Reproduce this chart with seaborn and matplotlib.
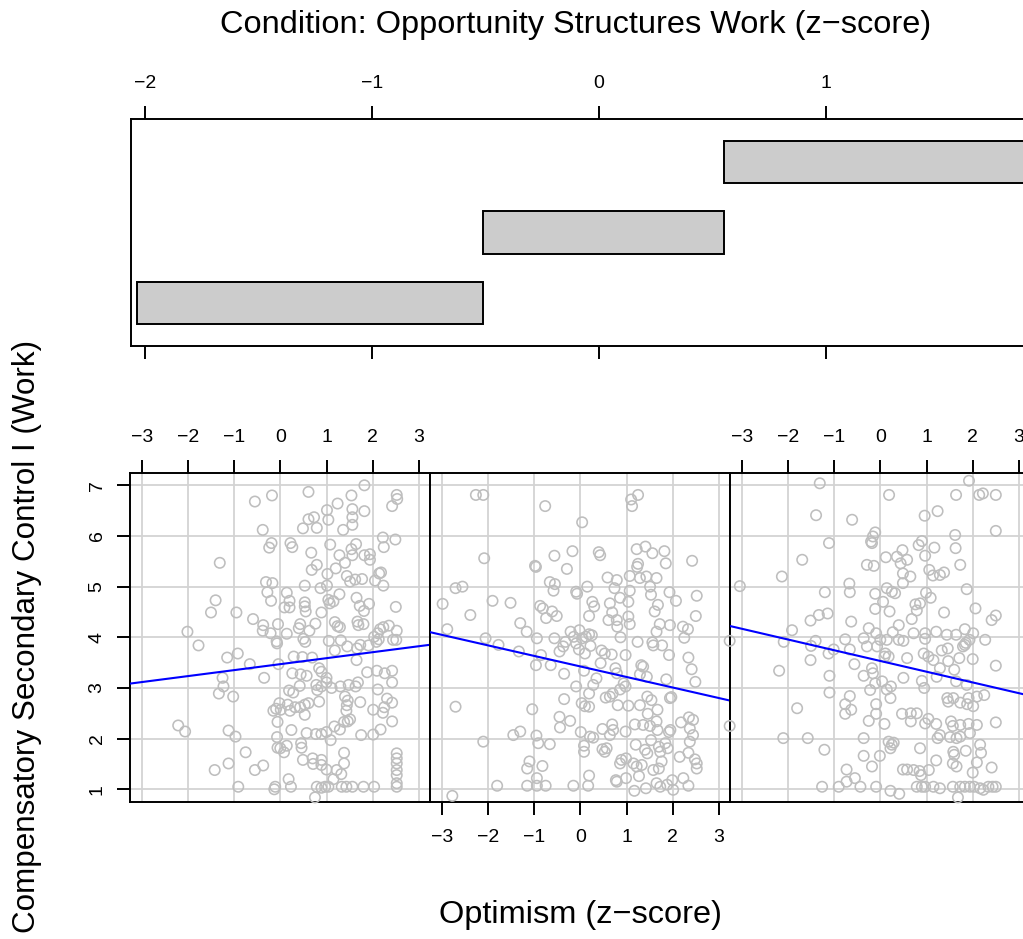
import numpy as np
import pandas as pd
import matplotlib
matplotlib.use("Agg")
import matplotlib.pyplot as plt
import seaborn as sns


# conditioning intervals (Opportunity Structures Work, z-score)
given_lo = [-2.035, -0.513, 0.552]
given_hi = [-0.513, 0.552, 1.88]

# fitted lines per panel
fit_intercept = [3.47, 3.425, 3.533]
fit_slope = [0.118, -0.208, -0.212]

# (optimism, compensatory secondary control) for each panel
low_pts = [
    (1.82, 7.00), (0.61, 6.87), (-0.18, 6.80), (-0.55, 6.68), (1.54, 6.80), (2.52, 6.81), (2.53, 6.73), (2.42, 6.59),
    (1.01, 6.51), (1.24, 6.64), (1.56, 6.53), (1.82, 6.49), (0.61, 6.33), (0.73, 6.37), (1.56, 6.37), (1.04, 6.32),
    (0.49, 6.15), (0.79, 6.16), (1.36, 6.12), (1.56, 6.22), (-0.38, 6.12), (2.22, 5.97), (2.49, 5.93), (-0.19, 5.86),
    (-0.24, 5.77), (0.22, 5.86), (0.26, 5.78), (1.08, 5.83), (1.64, 5.84), (1.54, 5.74), (2.24, 5.78), (0.67, 5.67),
    (1.28, 5.62), (1.56, 5.62), (1.82, 5.62), (1.94, 5.64), (1.94, 5.53), (-1.31, 5.47), (1.40, 5.47), (0.79, 5.43),
    (1.20, 5.36), (0.68, 5.33), (1.44, 5.21), (1.02, 5.25), (2.14, 5.26), (2.18, 5.28), (1.62, 5.14), (1.77, 5.15),
    (1.51, 5.10), (2.05, 5.12), (2.23, 5.02), (-0.31, 5.09), (-0.17, 5.07), (-0.28, 4.89), (-0.20, 4.72), (0.14, 4.88),
    (0.20, 4.72), (0.09, 4.59), (0.20, 4.59), (0.53, 5.02), (1.01, 5.02), (0.87, 4.97), (1.28, 4.85), (1.04, 4.74),
    (1.07, 4.67), (1.15, 4.71), (0.53, 4.69), (0.53, 4.61), (0.55, 4.51), (0.89, 4.49), (1.65, 4.78), (1.72, 4.62),
    (1.81, 4.52), (1.92, 4.66), (2.50, 4.60), (-1.40, 4.73), (-1.50, 4.49), (-0.95, 4.49), (-0.59, 4.36), (-0.37, 4.24),
    (-0.38, 4.13), (-0.21, 4.08), (-0.05, 4.26), (0.14, 4.07), (-0.08, 3.92), (-0.07, 3.88), (0.43, 4.26), (0.40, 4.18),
    (0.76, 4.27), (0.63, 4.13), (0.50, 3.97), (0.54, 3.91), (1.18, 4.30), (1.24, 4.22), (1.29, 4.20), (1.05, 3.93),
    (1.31, 3.94), (1.45, 3.82), (1.67, 4.31), (1.69, 4.24), (1.80, 4.26), (1.66, 3.78), (1.73, 3.85), (1.91, 3.84),
    (2.03, 4.01), (2.11, 4.08), (2.16, 4.16), (2.23, 4.20), (2.35, 4.23), (2.08, 3.91), (2.13, 3.96), (2.44, 3.95),
    (2.51, 3.95), (2.52, 4.13), (-2.01, 4.11), (-1.77, 3.84), (-1.15, 3.60), (-0.92, 3.68), (-0.66, 3.47), (-0.04, 3.47),
    (0.29, 3.62), (0.69, 3.60), (0.48, 3.61), (1.18, 3.74), (1.65, 3.55), (-1.25, 3.20), (-1.23, 3.03), (-1.33, 2.89),
    (-1.02, 2.83), (-0.35, 3.20), (0.26, 3.29), (0.44, 3.27), (0.57, 3.24), (0.84, 3.39), (0.89, 3.32), (1.00, 3.20),
    (1.00, 3.11), (0.78, 3.06), (0.80, 2.96), (0.89, 3.03), (1.11, 3.00), (1.30, 3.03), (1.48, 3.06), (1.68, 3.11),
    (1.63, 3.03), (1.88, 3.31), (2.09, 3.34), (2.26, 3.29), (2.42, 3.34), (2.42, 3.11), (2.11, 2.97), (0.42, 3.04),
    (0.19, 2.95), (0.28, 2.91), (-0.02, 2.70), (-0.09, 2.59), (-0.15, 2.55), (0.01, 2.57), (0.16, 2.67), (0.21, 2.55),
    (0.32, 2.62), (0.43, 2.62), (0.53, 2.67), (0.61, 2.70), (0.53, 2.47), (0.84, 2.73), (1.40, 2.83), (1.44, 2.66),
    (1.43, 2.55), (1.46, 2.75), (1.73, 2.72), (2.01, 2.57), (2.22, 2.51), (2.25, 2.62), (2.31, 2.79), (2.42, 2.71),
    (2.42, 2.34), (-2.21, 2.26), (-2.06, 2.14), (-1.12, 2.16), (-0.97, 2.04), (-0.06, 2.33), (-0.07, 2.03), (-0.06, 1.82),
    (0.00, 1.81), (0.08, 1.73), (0.14, 1.86), (0.24, 2.17), (0.45, 1.91), (0.46, 1.82), (0.57, 2.11), (0.77, 2.09),
    (0.89, 2.09), (1.00, 2.13), (1.09, 1.97), (1.17, 2.24), (1.29, 2.18), (1.38, 2.33), (1.46, 2.34), (1.51, 2.38),
    (1.75, 2.07), (2.01, 2.08), (2.17, 2.18), (-0.75, 1.73), (-1.12, 1.51), (-1.42, 1.38), (-0.55, 1.38), (-0.37, 1.47),
    (0.49, 1.58), (0.70, 1.61), (0.71, 1.50), (0.89, 1.58), (0.89, 1.48), (1.00, 1.39), (1.22, 1.38), (1.32, 1.30),
    (1.38, 1.72), (1.38, 1.51), (2.52, 1.71), (2.52, 1.61), (2.52, 1.51), (2.52, 1.38), (2.52, 1.28), (2.52, 1.12),
    (2.52, 1.05), (1.15, 1.20), (0.18, 1.20), (0.23, 1.05), (-0.91, 1.05), (-0.11, 1.05), (-0.13, 1.00), (0.79, 1.05),
    (0.89, 1.03), (0.97, 1.05), (1.04, 1.05), (1.33, 1.05), (1.43, 1.05), (1.56, 1.05), (1.80, 1.05), (2.03, 1.05),
    (0.75, 0.84),
]

mid_pts = [
    (-2.26, 6.81), (-2.10, 6.81), (-0.76, 6.59), (0.04, 6.27), (1.12, 6.59), (1.10, 6.72), (1.25, 6.81), (-2.08, 5.56),
    (-0.98, 5.41), (-0.96, 5.39), (-0.56, 5.61), (-0.17, 5.70), (-0.29, 5.35), (0.40, 5.68), (0.43, 5.62), (1.22, 5.74),
    (1.41, 5.79), (1.56, 5.66), (1.82, 5.70), (1.23, 5.39), (1.25, 5.45), (1.85, 5.46), (2.42, 5.51), (-2.70, 4.97),
    (-2.55, 5.00), (-2.98, 4.66), (-2.88, 4.16), (-2.38, 4.44), (-1.90, 4.72), (-1.51, 4.68), (-0.66, 5.09), (-0.55, 5.05),
    (-0.58, 4.92), (-0.09, 4.90), (-0.07, 4.86), (0.15, 5.00), (-0.87, 4.62), (-0.81, 4.57), (-0.74, 4.38), (-0.61, 4.51),
    (-0.51, 4.42), (-1.30, 4.28), (-1.16, 4.11), (-0.94, 3.98), (-0.56, 3.98), (0.26, 4.70), (0.30, 4.61), (0.19, 4.42),
    (0.59, 5.18), (0.79, 5.13), (0.74, 4.97), (1.07, 5.21), (1.07, 4.92), (1.29, 5.17), (1.43, 5.20), (1.65, 5.17),
    (1.51, 5.00), (1.53, 4.84), (1.93, 4.89), (2.07, 4.72), (2.52, 4.82), (0.64, 4.67), (0.86, 4.78), (1.04, 4.70),
    (0.69, 4.49), (0.79, 4.34), (0.80, 4.21), (0.61, 4.34), (1.04, 4.41), (1.07, 4.26), (1.61, 4.51), (1.68, 4.64),
    (1.72, 4.26), (1.65, 4.11), (1.94, 4.24), (2.22, 4.21), (2.33, 4.16), (2.25, 3.99), (2.50, 4.42), (0.87, 4.00),
    (1.24, 3.91), (1.56, 3.90), (1.58, 3.84), (1.77, 3.84), (1.92, 3.65), (2.34, 3.60), (2.41, 3.37), (2.49, 3.12),
    (-0.21, 4.11), (-0.14, 4.01), (-0.02, 4.14), (0.04, 3.98), (0.12, 4.01), (0.19, 4.06), (0.25, 4.04), (-0.32, 3.91),
    (-0.37, 3.82), (-0.45, 3.72), (-0.09, 3.88), (-0.03, 3.76), (0.10, 3.68), (0.22, 3.83), (-0.64, 3.45), (-0.96, 3.45),
    (-0.85, 3.65), (-1.33, 3.72), (-1.77, 3.85), (-2.05, 3.98), (0.46, 3.74), (0.53, 3.68), (0.68, 3.66), (0.44, 3.49),
    (0.98, 3.65), (0.08, 3.34), (-0.35, 3.28), (0.35, 3.19), (0.28, 3.06), (-0.09, 3.03), (0.76, 3.39), (0.79, 3.29),
    (1.32, 3.45), (1.36, 3.42), (1.29, 3.27), (1.44, 3.22), (1.86, 3.17), (0.94, 3.09), (0.98, 3.03), (0.86, 2.97),
    (0.70, 2.89), (0.64, 2.83), (0.55, 2.81), (0.81, 2.66), (1.04, 2.65), (1.29, 2.66), (1.45, 2.83), (1.54, 2.76),
    (1.94, 2.80), (1.97, 2.82), (0.19, 2.89), (-0.35, 2.78), (0.03, 2.70), (0.10, 2.64), (0.19, 2.63), (-1.04, 2.58),
    (-2.70, 2.63), (-0.45, 2.43), (-0.44, 2.22), (-0.22, 2.35), (0.01, 2.13), (0.21, 2.04), (0.28, 2.02), (0.48, 2.19),
    (0.69, 2.28), (0.71, 2.17), (0.64, 2.07), (0.98, 2.14), (1.18, 2.28), (1.36, 2.27), (1.51, 2.25), (1.65, 2.34),
    (1.67, 2.17), (1.46, 2.49), (1.67, 2.57), (1.92, 2.13), (1.95, 2.17), (2.18, 2.32), (2.35, 2.42), (2.44, 2.37),
    (2.37, 2.20), (2.44, 2.07), (2.37, 1.94), (-1.45, 2.07), (-1.30, 2.14), (-0.95, 2.06), (-0.91, 1.91), (-0.66, 1.89),
    (-2.10, 1.94), (0.08, 1.86), (0.08, 1.74), (0.48, 1.79), (0.57, 1.81), (0.53, 1.74), (1.20, 1.88), (1.40, 1.78),
    (1.45, 1.71), (1.53, 1.97), (1.73, 1.74), (1.70, 1.84), (1.84, 1.91), (1.89, 1.81), (2.15, 1.64), (2.34, 1.72),
    (2.48, 1.59), (2.52, 1.51), (2.52, 1.41), (-1.10, 1.55), (-1.15, 1.41), (-0.82, 1.46), (-0.94, 1.22), (-1.15, 1.07),
    (-0.94, 1.07), (-0.75, 1.07), (-1.80, 1.07), (-0.15, 1.07), (0.17, 1.07), (0.19, 1.27), (0.86, 1.51), (1.15, 1.51),
    (1.22, 1.45), (1.33, 1.48), (0.89, 1.58), (0.99, 1.61), (1.58, 1.38), (1.70, 1.41), (1.76, 1.55), (1.27, 1.26),
    (0.77, 1.18), (0.99, 1.22), (0.79, 1.15), (1.17, 0.97), (1.42, 1.02), (1.65, 1.12), (1.73, 1.05), (1.88, 1.09),
    (1.99, 1.18), (2.01, 0.99), (2.23, 1.22), (2.34, 1.07), (-2.77, 0.87),
]

high_pts = [
    (1.92, 7.09), (-1.31, 7.04), (0.19, 6.81), (1.64, 6.81), (2.14, 6.81), (2.22, 6.84), (2.50, 6.81), (-1.39, 6.41),
    (-0.61, 6.32), (0.96, 6.40), (1.24, 6.49), (2.50, 6.10), (-0.11, 6.07), (-0.16, 5.99), (-0.20, 5.89), (-0.18, 5.86),
    (-1.11, 5.86), (1.62, 6.02), (0.90, 5.90), (0.83, 5.82), (1.17, 5.77), (1.63, 5.76), (-1.69, 5.53), (0.12, 5.58),
    (0.48, 5.72), (0.36, 5.59), (0.58, 5.53), (0.44, 5.46), (-0.29, 5.43), (-0.14, 5.41), (0.97, 5.61), (1.73, 5.43),
    (-2.13, 5.20), (0.49, 5.26), (0.65, 5.20), (0.49, 5.07), (1.06, 5.33), (1.14, 5.22), (1.29, 5.23), (1.38, 5.28),
    (-0.67, 5.06), (-0.66, 4.89), (-1.20, 4.89), (-3.04, 5.01), (0.14, 4.97), (0.25, 4.90), (0.32, 4.87), (-0.11, 4.86),
    (0.99, 4.88), (1.09, 4.78), (1.87, 4.95), (0.06, 4.70), (-0.11, 4.56), (0.20, 4.51), (0.76, 4.65), (0.86, 4.67),
    (0.79, 4.53), (0.68, 4.36), (0.40, 4.24), (1.38, 4.49), (2.06, 4.57), (2.50, 4.43), (2.41, 4.34), (-1.51, 4.33),
    (-1.33, 4.44), (-1.14, 4.47), (-0.63, 4.31), (-1.91, 4.14), (-2.09, 3.91), (-1.40, 3.93), (-1.50, 3.83), (-0.76, 3.96),
    (-0.66, 3.76), (-0.56, 3.47), (-0.36, 3.98), (-0.25, 4.18), (-0.09, 4.08), (0.00, 3.95), (0.14, 3.95), (0.27, 4.10),
    (0.40, 3.95), (0.50, 3.93), (0.72, 4.08), (-0.29, 3.82), (-0.07, 3.82), (0.11, 3.68), (0.09, 3.62), (0.18, 3.62),
    (0.58, 3.59), (0.97, 4.08), (0.97, 3.97), (1.21, 4.11), (1.44, 4.05), (1.64, 4.05), (1.83, 4.16), (2.01, 4.08),
    (1.93, 3.95), (2.27, 3.95), (1.83, 3.85), (1.79, 3.82), (1.85, 3.89), (0.94, 3.68), (1.04, 3.62), (1.15, 3.55),
    (1.33, 3.74), (1.46, 3.78), (1.29, 3.39), (1.47, 3.53), (1.71, 3.59), (2.00, 3.57), (-1.01, 3.76), (-1.12, 3.68),
    (-1.51, 3.55), (-2.19, 3.34), (-1.10, 3.24), (-1.10, 2.91), (-0.36, 3.24), (-0.18, 3.39), (-0.16, 3.29), (-0.11, 3.09),
    (0.04, 3.13), (0.14, 2.97), (0.23, 3.03), (-0.22, 2.96), (0.50, 3.20), (0.90, 3.14), (1.22, 3.22), (0.95, 3.00),
    (1.64, 3.13), (1.87, 3.06), (1.60, 3.36), (2.50, 3.44), (1.45, 2.80), (1.47, 2.73), (1.58, 2.80), (1.73, 2.71),
    (1.91, 2.80), (2.09, 2.83), (2.25, 2.86), (2.01, 2.64), (1.88, 2.68), (-0.66, 2.84), (-0.76, 2.68), (-0.76, 2.49),
    (-0.63, 2.57), (-1.80, 2.60), (0.22, 2.80), (-0.09, 2.68), (-0.09, 2.49), (0.09, 2.29), (-0.25, 2.35), (0.47, 2.49),
    (0.66, 2.50), (0.79, 2.50), (0.66, 2.34), (0.97, 2.30), (1.04, 2.39), (1.21, 2.29), (1.53, 2.34), (1.57, 2.25),
    (1.73, 2.27), (1.91, 2.29), (2.09, 2.27), (2.50, 2.32), (-0.36, 2.01), (0.18, 1.94), (0.29, 1.92), (0.25, 1.88),
    (0.22, 1.81), (1.24, 2.01), (1.29, 2.07), (1.51, 2.03), (1.65, 2.01), (1.73, 2.04), (1.94, 2.11), (-2.10, 2.01),
    (-1.57, 2.01), (-1.21, 1.78), (0.86, 1.81), (1.58, 1.74), (1.60, 1.68), (1.85, 1.76), (2.16, 1.88), (2.18, 1.72),
    (-0.36, 1.66), (-0.01, 1.66), (-0.18, 1.45), (1.21, 1.57), (1.57, 1.51), (1.65, 1.45), (2.09, 1.53), (0.49, 1.39),
    (0.58, 1.39), (0.72, 1.38), (0.85, 1.36), (0.88, 1.28), (1.05, 1.38), (2.00, 1.33), (2.41, 1.43), (-0.73, 1.39),
    (-0.55, 1.22), (-0.73, 1.15), (-1.26, 1.05), (-0.90, 1.05), (-0.43, 1.05), (-0.09, 1.05), (0.22, 0.97), (0.41, 0.91),
    (0.79, 1.05), (0.90, 1.05), (0.97, 1.05), (1.15, 1.05), (1.29, 1.02), (1.57, 1.05), (1.73, 1.05), (1.83, 1.05),
    (1.94, 1.05), (2.03, 1.05), (2.16, 1.02), (2.23, 0.99), (2.34, 1.05), (2.43, 1.05), (2.50, 1.05), (1.68, 0.84),
    (-3.26, 3.93), (-3.26, 2.25),
]

panel_x_ticks = [-3, -2, -1, 0, 1, 2, 3]
panel_y_ticks = [1, 2, 3, 4, 5, 6, 7]
given_ticks = [-2, -1, 0, 1]

sns.set_theme(style="white")
plt.rcParams["font.family"] = ["Liberation Sans", "DejaVu Sans"]
plt.rcParams["axes.unicode_minus"] = True
plt.rcParams["text.color"] = "black"
plt.rcParams["xtick.color"] = "black"
plt.rcParams["ytick.color"] = "black"
plt.rcParams["xtick.labelcolor"] = "black"
plt.rcParams["ytick.labelcolor"] = "black"

W, H = 1023, 939
fig = plt.figure(figsize=(W / 100, H / 100), dpi=100)

TICK_FS = 14
LABEL_FS = 23.4
PT_COLOR = "#BEBEBE"
GRID_COLOR = "#D3D3D3"


def px_box(left, top, right, bottom):
    # pixel box (from top-left) -> figure fraction rect
    return [left / W, 1 - bottom / H, (right - left) / W, (bottom - top) / H]


def style_box(ax):
    for s in ax.spines.values():
        s.set_visible(True)
        s.set_color("black")
        s.set_linewidth(1.4)


# ---- conditioning panel ----
ax_top = fig.add_axes(px_box(130.6, 119.3, 1030, 345.7))
levels = np.arange(1, len(given_lo) + 1)
ax_top.barh(levels, np.subtract(given_hi, given_lo), left=given_lo, height=0.6,
            color="#CCCCCC", edgecolor="black", linewidth=1.4)
ax_top.set_xlim(-2.064, 1.898)
ax_top.set_ylim(0.39, 3.61)
ax_top.set_yticks([])
ax_top.set_xticks(given_ticks)
ax_top.tick_params(axis="x", top=True, bottom=True, labeltop=True, labelbottom=False,
                   direction="out", length=9.5, width=1.4, pad=10,
                   labelsize=TICK_FS, color="black", labelcolor="black")
style_box(ax_top)

# ---- dependence panels ----
panel_pts = [low_pts, mid_pts, high_pts]
xlim = (-3.253, 3.24)
ylim = (0.755, 7.249)

for i, pts in enumerate(panel_pts):
    left = 130 + 300 * i
    ax = fig.add_axes(px_box(left, 472.7, left + 300, 801.7))
    df = pd.DataFrame(pts, columns=["Optimism", "Control"])

    ax.set_xticks(panel_x_ticks)
    ax.set_yticks(panel_y_ticks)
    ax.grid(True, color=GRID_COLOR, linewidth=1.3)
    ax.set_axisbelow(True)

    sns.scatterplot(data=df, x="Optimism", y="Control", ax=ax, s=56,
                    facecolors="none", edgecolor=PT_COLOR, linewidth=1.15,
                    clip_on=False, zorder=3)
    ax.collections[-1].set_facecolor("none")

    xs = np.array(xlim)
    ax.plot(xs, fit_intercept[i] + fit_slope[i] * xs, color="#0000FF", lw=1.5, zorder=4)

    ax.set_xlim(xlim)
    ax.set_ylim(ylim)
    ax.set_xlabel("")
    ax.set_ylabel("")
    style_box(ax)

    on_top = i != 1
    ax.tick_params(axis="x", top=on_top, labeltop=on_top, bottom=not on_top, labelbottom=not on_top,
                   direction="out", length=9.5, width=1.4, pad=10, labelsize=TICK_FS,
                   color="black", labelcolor="black")
    if i == 0:
        ax.tick_params(axis="y", left=True, labelleft=True, right=False, labelright=False,
                       direction="out", length=9.5, width=1.4, pad=8, labelsize=TICK_FS,
                       color="black", labelcolor="black", labelrotation=90)
        for lab in ax.get_yticklabels():
            lab.set_va("center")
    else:
        ax.tick_params(axis="y", left=False, labelleft=False, right=False, labelright=False)

fig.text(576 / W, 1 - 33 / H, "Condition: Opportunity Structures Work (z\u2212score)",
         ha="center", va="baseline", fontsize=LABEL_FS, color="black")
fig.text(580 / W, 1 - 923 / H, "Optimism (z\u2212score)",
         ha="center", va="baseline", fontsize=LABEL_FS, color="black")
fig.text(27 / W, 1 - 636 / H, "Compensatory Secondary Control I (Work)",
         rotation=90, ha="center", va="center", fontsize=22.6, color="black")

fig.savefig("out.png", dpi=100)
